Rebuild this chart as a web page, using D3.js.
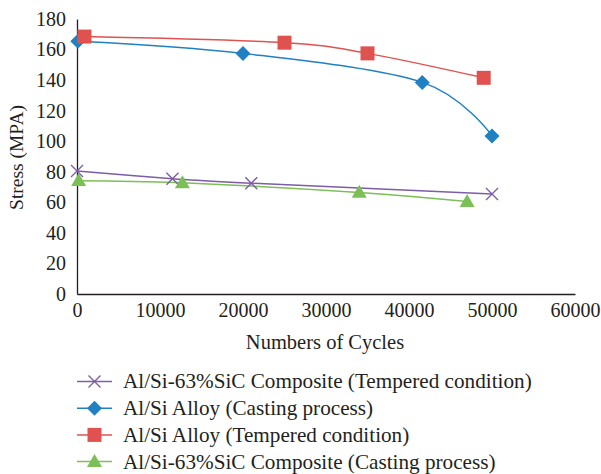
<!DOCTYPE html>
<html>
<head>
<meta charset="utf-8">
<script src="https://cdn.jsdelivr.net/npm/d3@7"></script>
<style>
  html, body { margin: 0; padding: 0; background: #fff; }
  svg text { font-family: "Liberation Serif", "DejaVu Serif", serif; fill: #231f20; }
</style>
</head>
<body>
<svg id="chart" width="601" height="474"></svg>
<script>
// Fatigue data: cycles vs stress for each material/condition
const compositeTemperedCycles = [0, 11500, 21000, 50000];
const compositeTemperedStress = [80.5, 75.5, 72.5, 65.5];

const alloyCastingCycles = [100, 20000, 41600, 50000];
const alloyCastingStress = [165.5, 157.5, 138.5, 103.5];

const alloyTemperedCycles = [900, 25000, 35000, 49000];
const alloyTemperedStress = [168.5, 164.5, 157.5, 141.5];

const compositeCastingCycles = [200, 12700, 34000, 47000];
const compositeCastingStress = [74.2, 72.8, 66.5, 60.5];

const seriesNames = [
  "Al/Si-63%SiC Composite (Tempered condition)",
  "Al/Si Alloy (Casting process)",
  "Al/Si Alloy (Tempered condition)",
  "Al/Si-63%SiC Composite (Casting process)"
];

const xTicks = [0, 10000, 20000, 30000, 40000, 50000, 60000];
const yTicks = [0, 20, 40, 60, 80, 100, 120, 140, 160, 180];

const series = [
  { name: seriesNames[0], cycles: compositeTemperedCycles, stress: compositeTemperedStress, color: "#7d5ca8", marker: "cross" },
  { name: seriesNames[1], cycles: alloyCastingCycles, stress: alloyCastingStress, color: "#2080c4", marker: "diamond" },
  { name: seriesNames[2], cycles: alloyTemperedCycles, stress: alloyTemperedStress, color: "#e05250", marker: "square" },
  { name: seriesNames[3], cycles: compositeCastingCycles, stress: compositeCastingStress, color: "#7cbf56", marker: "triangle" }
];

const serif = '"Liberation Serif", "DejaVu Serif", serif';
const svg = d3.select("#chart");
const plot = { left: 77, right: 575, top: 19, bottom: 294 };

const x = d3.scaleLinear().domain([0, 60000]).range([plot.left, plot.right]);
const y = d3.scaleLinear().domain([0, 180]).range([plot.bottom, plot.top]);

// Axes: plain lines with labels, no tick marks
const xAxis = svg.append("g")
  .attr("transform", `translate(0,${plot.bottom})`)
  .call(d3.axisBottom(x).tickValues(xTicks).tickSize(0).tickPadding(9).tickFormat(d3.format("d")));
xAxis.attr("font-family", null).attr("font-size", null);
xAxis.select(".domain").attr("stroke", "#231f20").attr("stroke-width", 1.3);
xAxis.selectAll("text").style("font-family", serif).style("font-size", "20px").attr("dy", "0.7em");

const yAxis = svg.append("g")
  .attr("transform", `translate(${plot.left},0)`)
  .call(d3.axisLeft(y).tickValues(yTicks).tickSize(0).tickPadding(11).tickFormat(d3.format("d")));
yAxis.attr("font-family", null).attr("font-size", null);
yAxis.select(".domain").attr("stroke", "#231f20").attr("stroke-width", 1.3);
yAxis.selectAll("text").style("font-family", serif).style("font-size", "20px");

// Axis titles
svg.append("text")
  .attr("x", (plot.left + plot.right) / 2 - 1)
  .attr("y", 349)
  .attr("text-anchor", "middle")
  .style("font-size", "20.5px")
  .text("Numbers of Cycles");

svg.append("text")
  .attr("transform", `translate(23,${(plot.top + plot.bottom) / 2 + 1}) rotate(-90)`)
  .attr("text-anchor", "middle")
  .style("font-size", "19.5px")
  .text("Stress (MPA)");

// Smoothed lines
const line = d3.line()
  .x(d => x(d[0]))
  .y(d => y(d[1]))
  .curve(d3.curveCardinal.tension(0));

function drawMarker(g, type, color, cx, cy) {
  if (type === "cross") {
    const s = 6;
    g.append("path")
      .attr("d", `M${cx - s},${cy - s}L${cx + s},${cy + s}M${cx - s},${cy + s}L${cx + s},${cy - s}`)
      .attr("stroke", color).attr("stroke-width", 1.4).attr("fill", "none");
  } else if (type === "diamond") {
    const s = 7.5;
    g.append("path")
      .attr("d", `M${cx},${cy - s}L${cx + s},${cy}L${cx},${cy + s}L${cx - s},${cy}Z`)
      .attr("fill", color);
  } else if (type === "square") {
    const s = 7;
    g.append("rect")
      .attr("x", cx - s).attr("y", cy - s).attr("width", 2 * s).attr("height", 2 * s)
      .attr("fill", color);
  } else if (type === "triangle") {
    const w = 7.5, h = 13;
    g.append("path")
      .attr("d", `M${cx},${cy - h * 0.58}L${cx + w},${cy + h * 0.42}L${cx - w},${cy + h * 0.42}Z`)
      .attr("fill", color);
  }
}

const marks = svg.append("g");
series.forEach(s => {
  const pts = s.cycles.map((c, i) => [c, s.stress[i]]);
  marks.append("path")
    .attr("d", line(pts))
    .attr("fill", "none")
    .attr("stroke", s.color)
    .attr("stroke-width", 1.5);
});
series.forEach(s => {
  const g = marks.append("g");
  s.cycles.forEach((c, i) => drawMarker(g, s.marker, s.color, x(c), y(s.stress[i])));
});

// Legend
const legend = svg.append("g");
const legendTop = 381.5, legendStep = 26.7;
series.forEach((s, i) => {
  const ly = legendTop + i * legendStep;
  const row = legend.append("g");
  row.append("line")
    .attr("x1", 77).attr("x2", 112).attr("y1", ly).attr("y2", ly)
    .attr("stroke", s.color).attr("stroke-width", 1.5);
  drawMarker(row, s.marker, s.color, 94.5, ly);
  row.append("text")
    .attr("x", 123)
    .attr("y", ly)
    .attr("dy", "0.33em")
    .style("font-size", "21.2px")
    .text(s.name);
});
</script>
</body>
</html>
